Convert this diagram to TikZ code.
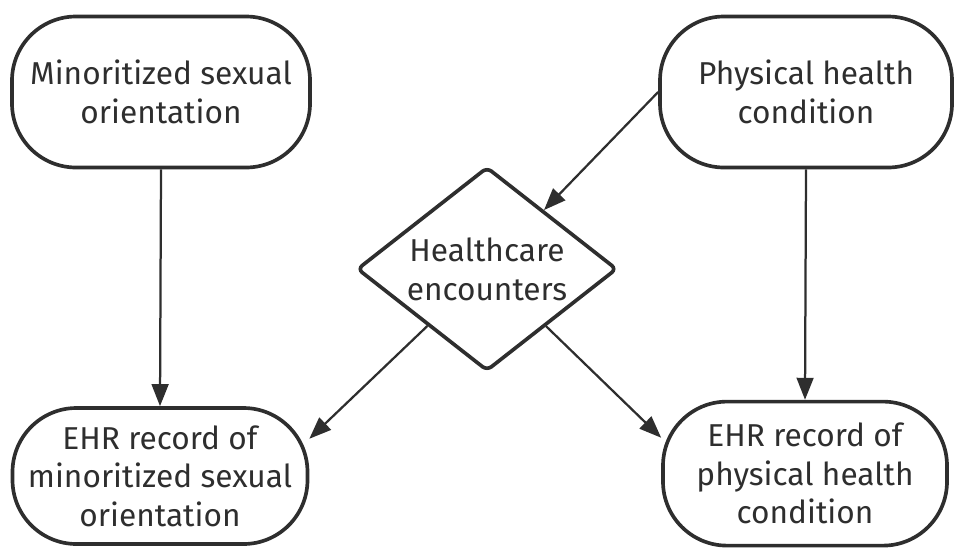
\documentclass[tikz,border=0pt]{standalone}
\usepackage{fontspec}
\setmainfont{Fira Sans}
\usetikzlibrary{shapes.geometric,arrows.meta}
\definecolor{inkgray}{HTML}{2E2E2E}
\begin{document}
\begin{tikzpicture}[x=1cm,y=1cm,
  pill/.style={draw=inkgray, line width=2.6pt, rectangle, rounded corners=1.6cm, align=center, text=inkgray, font=\fontsize{22.5}{27.5}\selectfont},
  choice/.style={draw=inkgray, line width=2.6pt, diamond, rounded corners=4pt, aspect=1.28, inner sep=0pt, minimum width=6.5cm, minimum height=5.1cm, align=center, text=inkgray, font=\fontsize{22.5}{27.5}\selectfont},
  link/.style={-{Triangle[length=0.55cm,width=0.42cm]}, draw=inkgray, line width=1.6pt}]
\useasboundingbox (0,0) rectangle (23.85,-13.675);
\node[pill, minimum width=7.45cm, minimum height=3.775cm] (mso) at (4.025,-2.3) {Minoritized sexual\\orientation};
\node[pill, minimum width=7.3cm, minimum height=3.775cm] (phc) at (20.15,-2.3) {Physical health\\condition};
\node[choice] (hce) at (12.175,-6.725) {Healthcare\\encounters};
\node[pill, minimum width=7.375cm, minimum height=3.4cm] (rmso) at (4.0,-11.9) {EHR record of\\minoritized sexual\\orientation};
\node[pill, minimum width=7.1cm, minimum height=3.6cm] (rphc) at (20.125,-11.84) {EHR record of\\physical health\\condition};

\draw[link] (mso.south) -- (rmso.north);
\draw[link] (phc.south) -- (rphc.north);
\draw[link] (phc.west) -- (hce);
\draw[link] (hce) -- (rmso.14);
\draw[link] (hce) -- (rphc.166);
\end{tikzpicture}
\end{document}
